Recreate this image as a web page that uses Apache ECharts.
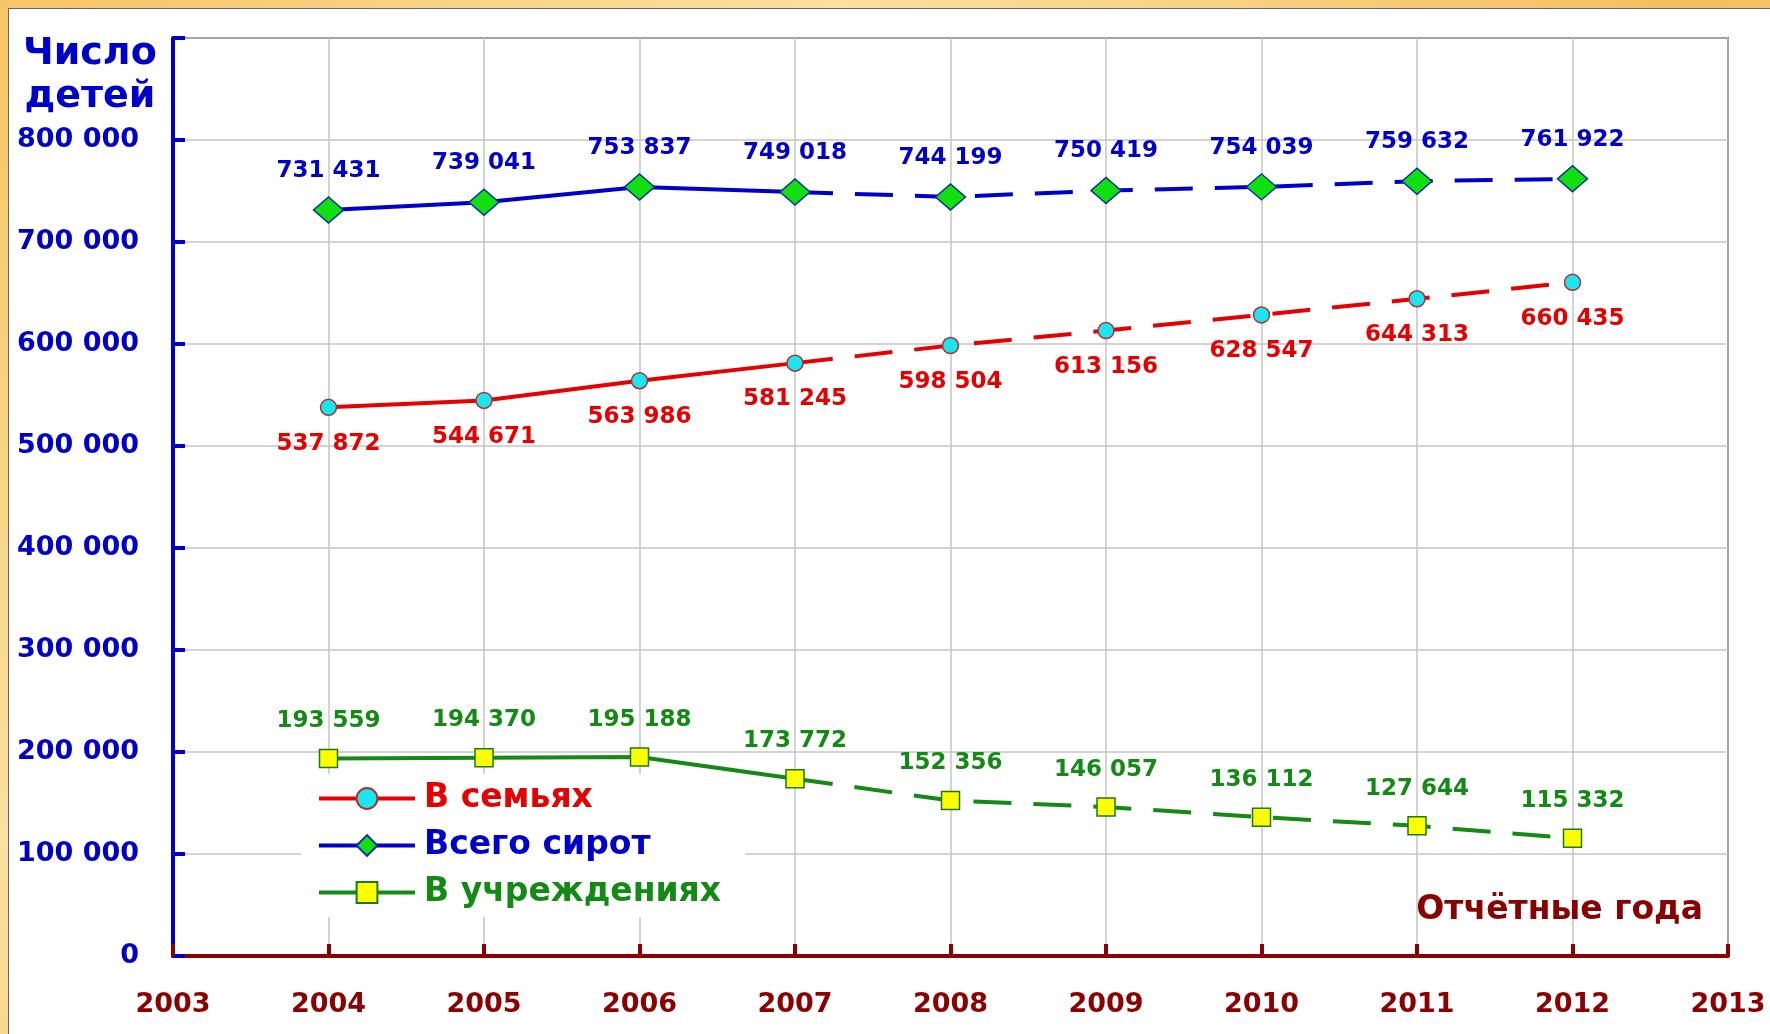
<!DOCTYPE html>
<html>
<head>
<meta charset="utf-8">
<script src="https://cdn.jsdelivr.net/npm/echarts@6/dist/echarts.min.js"></script>
<style>
html, body { margin: 0; padding: 0; }
body {
  width: 1770px; height: 1034px; overflow: hidden;
  background: linear-gradient(135deg, #f6c566 0%, #fbe0a0 30%, #f4c060 60%, #fbdc96 100%);
}
#main {
  position: absolute; left: 8px; top: 8px;
  width: 1762px; height: 1026px;
  background: #fff;
  border-left: 1px solid #666; border-top: 1px solid #666;
}
</style>
</head>
<body>
<div id="main"></div>
<script>
var years = [2004, 2005, 2006, 2007, 2008, 2009, 2010, 2011, 2012];
var vSemyah = [537872, 544671, 563986, 581245, 598504, 613156, 628547, 644313, 660435];
var vVsego = [731431, 739041, 753837, 749018, 744199, 750419, 754039, 759632, 761922];
var vUchr = [193559, 194370, 195188, 173772, 152356, 146057, 136112, 127644, 115332];
var lastSolid = 3; // до 2007 года сплошная линия, дальше пунктир

var FONT = '"DejaVu Sans", Arial, sans-serif';

function fmt(v) {
  return String(v).replace(/\B(?=(\d{3})+(?!\d))/g, ' ');
}

function makeSeries(name, vals, o) {
  var common = {
    name: name,
    type: 'line',
    symbol: o.symbol,
    symbolSize: o.size,
    itemStyle: { color: o.fill, borderColor: o.border, borderWidth: 1.5 },
    lineStyle: { color: o.color, width: 4 },
    label: {
      show: true,
      position: o.labelPos,
      distance: o.dist,
      color: o.color,
      fontFamily: FONT,
      fontWeight: 'bold',
      fontSize: 23,
      formatter: function (p) { return fmt(p.value[1]); }
    },
    z: o.z
  };
  var solid = echarts.util.merge({
    data: years.slice(0, lastSolid + 1).map(function (y, i) { return [y, vals[i]]; })
  }, common);
  var dashed = echarts.util.merge({
    data: years.slice(lastSolid).map(function (y, i) {
      if (i === 0) return { value: [y, vals[lastSolid]], symbol: 'none', label: { show: false } };
      return [y, vals[lastSolid + i]];
    })
  }, common);
  dashed.lineStyle = { color: o.color, width: 4, type: [38, 22] };
  return [solid, dashed];
}

var red = '#e80000', blue = '#0000cc', green = '#138a13', darkRed = '#8b0000';

var series = [].concat(
  makeSeries('В семьях', vSemyah, { symbol: 'circle', size: 16, fill: '#19e6f0', border: '#b03030', color: red, labelPos: 'bottom', dist: 16, z: 3 }),
  makeSeries('Всего сирот', vVsego, { symbol: 'diamond', size: [30, 26], fill: '#10e010', border: '#0a30a0', color: blue, labelPos: 'top', dist: 14, z: 4 }),
  makeSeries('В учреждениях', vUchr, { symbol: 'rect', size: 18, fill: '#ffff00', border: '#1a7a1a', color: green, labelPos: 'top', dist: 16, z: 2 })
);

var myChart = echarts.init(document.getElementById('main'));

var option = {
  animation: false,
  grid: {
    left: 164, top: 29, right: 43, bottom: 79,
    show: true, borderColor: '#000', borderWidth: 1.5, backgroundColor: 'transparent'
  },
  xAxis: {
    type: 'value',
    min: 2003, max: 2013, interval: 1,
    axisLine: { show: true, lineStyle: { color: darkRed, width: 4 } },
    axisTick: { show: true, inside: true, length: 12, lineStyle: { color: darkRed, width: 4 } },
    axisLabel: {
      color: darkRed, fontFamily: FONT, fontWeight: 'bold', fontSize: 27, margin: 35,
      formatter: function (v) { return String(v); }
    },
    splitLine: { show: true, lineStyle: { color: '#c4c4c4', width: 1.5 } }
  },
  yAxis: {
    type: 'value',
    min: 0, max: 900000, interval: 100000,
    axisLine: { show: true, lineStyle: { color: blue, width: 4 } },
    axisTick: { show: true, inside: true, length: 12, lineStyle: { color: blue, width: 4 } },
    axisLabel: {
      color: blue, fontFamily: FONT, fontWeight: 'bold', fontSize: 27, margin: 34,
      formatter: function (v) { return v >= 900000 ? '' : fmt(v); }
    },
    splitLine: { show: true, lineStyle: { color: '#c4c4c4', width: 1.5 } }
  },
  legend: {
    orient: 'vertical',
    left: 292, top: 765,
    backgroundColor: '#fff',
    padding: [8, 24, 8, 16],
    itemWidth: 96, itemHeight: 26, itemGap: 14,
    lineStyle: { width: 4 },
    textStyle: { fontFamily: FONT, fontWeight: 'bold', fontSize: 33, padding: [0, 0, 0, 4] },
    data: [
      { name: 'В семьях', textStyle: { color: red } },
      { name: 'Всего сирот', textStyle: { color: blue } },
      { name: 'В учреждениях', textStyle: { color: green } }
    ]
  },
  graphic: [
    {
      type: 'text', left: 14, top: 24, z: 10,
      style: {
        text: 'Число\nдетей', fill: blue, font: 'bold 38px ' + FONT,
        textAlign: 'center', lineHeight: 43
      }
    },
    {
      type: 'text', right: 68, top: 885, z: 10,
      style: { text: 'Отчётные года', fill: darkRed, font: 'bold 33px ' + FONT }
    }
  ],
  series: series
};

myChart.setOption(option);
</script>
</body>
</html>
